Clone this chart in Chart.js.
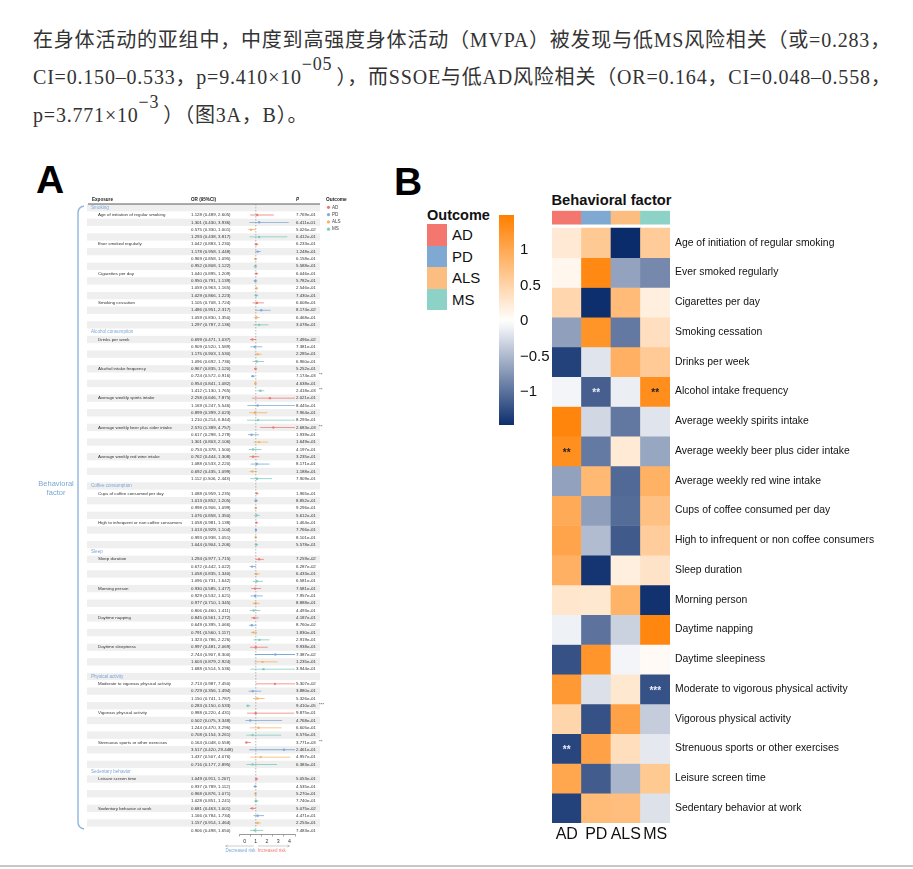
<!DOCTYPE html>
<html>
<head>
<meta charset="utf-8">
<script src="https://cdn.jsdelivr.net/npm/chart.js@4.4.1/dist/chart.umd.min.js"></script>
<style>
  body { margin: 0; width: 913px; height: 869px; overflow: hidden; background: #fff; position: relative; }
  .line { position: absolute; left: 33px; white-space: nowrap; font-family: "Liberation Serif", "Noto Sans CJK SC", serif;
          font-size: 20px; line-height: 20px; color: #333; letter-spacing: 0.8px; }
  .sup { position: relative; top: -0.8em; font-size: 0.9em; margin-right: 4px; }
  .letter { position: absolute; font-family: "Liberation Sans", Arial, sans-serif; font-weight: bold; font-size: 39px; line-height: 39px; color: #000; }
  .abs { position: absolute; font-family: "Liberation Sans", Arial, sans-serif; color: #111; }
  canvas { position: absolute; }
</style>
</head>
<body>
<div class="line" style="top:30px">在身体活动的亚组中，中度到高强度身体活动（MVPA）被发现与低MS风险相关（或=0.283，</div>
<div class="line" style="top:67px">CI=0.150–0.533，p=9.410×10<span class="sup">−05</span>），而SSOE与低AD风险相关（OR=0.164，CI=0.048–0.558，</div>
<div class="line" style="top:105px">p=3.771×10<span class="sup">−3</span>）（图3A，B）。</div>

<div class="letter" style="left:36px; top:160px">A</div>
<div class="letter" style="left:394px; top:162px">B</div>

<canvas id="forest" width="330" height="705" style="left:30px; top:160px"></canvas>

<div class="abs" style="left:540px; top:191px; width:143px; text-align:center; font-weight:bold; font-size:14.7px; line-height:18px">Behavioral factor</div>

<div id="outcomeLegend"></div>
<canvas id="colorbar" width="80" height="240" style="left:490px; top:200px"></canvas>
<canvas id="heat" width="373" height="665" style="left:540px; top:185px"></canvas>

<div style="position:absolute; left:0; top:865px; width:913px; height:1.5px; background:#c8c8c8"></div>

<script>
Chart.defaults.font.family = "'Liberation Sans', Arial, sans-serif";
Chart.defaults.animation = false;

// ---- data ----
const outcomes = ['AD', 'PD', 'ALS', 'MS'];
const outcomeColors = ['#f4776f', '#7fa9d3', '#fcbd80', '#8dd2c6'];
const forestColors = ['#f07a72', '#7eaad8', '#f7b262', '#7dcbbb'];

const groups = ['Smoking', 'Alcohol consumption', 'Coffee consumption', 'Sleep', 'Physical activity', 'Sedentary behavior'];
const exposures = [
  'Age of initiation of regular smoking', 'Ever smoked regularly', 'Cigarettes per day', 'Smoking cessation',
  'Drinks per week', 'Alcohol intake frequency', 'Average weekly spirits intake',
  'Average weekly beer plus cider intake', 'Average weekly red wine intake',
  'Cups of coffee consumed per day', 'High to infrequent or non coffee consumers',
  'Sleep duration', 'Morning person', 'Daytime napping', 'Daytime sleepiness',
  'Moderate to vigorous physical activity', 'Vigorous physical activity', 'Strenuous sports or other exercises',
  'Leisure screen time', 'Sedentary behavior at work'
];
const groupOf = [0, 0, 0, 0, 1, 1, 1, 1, 1, 2, 2, 3, 3, 3, 3, 4, 4, 4, 5, 5];

const adOR = [1.128, 1.042, 1.040, 1.105, 0.699, 0.967, 2.258, 2.570, 0.762, 1.088, 1.058, 1.294, 0.930, 0.845, 0.997, 2.713, 0.988, 0.164, 1.049, 0.681];
const adLow = [0.489, 0.883, 0.895, 0.708, 0.471, 0.835, 0.646, 1.389, 0.444, 0.959, 0.981, 0.977, 0.585, 0.561, 0.481, 0.987, 0.220, 0.048, 0.911, 0.463];
const adHigh = [2.605, 1.230, 1.209, 1.724, 1.037, 1.120, 7.875, 4.757, 1.308, 1.235, 1.138, 1.715, 1.477, 1.272, 2.069, 7.450, 4.431, 0.558, 1.207, 1.001];
const adP = [7.769e-01, 6.233e-01, 6.046e-01, 6.608e-01, 7.496e-02, 5.252e-01, 2.021e-01, 2.683e-03, 3.235e-01, 1.965e-01, 1.464e-01, 7.259e-02, 7.581e-01, 4.187e-01, 9.938e-01, 5.307e-02, 9.875e-01, 3.771e-03, 5.053e-01, 5.075e-02];

const pdOR = [1.301, 1.178, 0.950, 1.486, 0.909, 0.724, 1.169, 0.617, 1.088, 1.013, 1.013, 0.672, 0.929, 0.649, 2.744, 0.729, 0.502, 3.517, 0.937, 1.166];
const pdLow = [0.430, 0.958, 0.791, 0.951, 0.520, 0.572, 0.247, 0.298, 0.533, 0.852, 0.929, 0.442, 0.532, 0.395, 0.907, 0.356, 0.075, 0.420, 0.789, 0.784];
const pdHigh = [3.936, 1.448, 1.139, 2.317, 1.589, 0.916, 5.546, 1.278, 2.220, 1.205, 1.104, 1.022, 1.621, 1.066, 8.300, 1.494, 3.348, 29.448, 1.112, 1.734];
const pdP = [6.411e-01, 1.248e-01, 5.782e-01, 8.174e-02, 7.381e-01, 7.174e-03, 8.445e-01, 1.939e-01, 8.171e-01, 8.852e-01, 7.766e-01, 6.287e-02, 7.957e-01, 8.760e-02, 7.387e-02, 3.880e-01, 4.768e-01, 2.461e-01, 4.535e-01, 4.471e-01];

const alsOR = [0.575, 0.969, 1.059, 1.059, 1.175, 0.954, 0.899, 1.301, 0.692, 0.998, 0.993, 1.058, 0.977, 0.791, 1.603, 1.150, 1.244, 1.437, 0.968, 1.157];
const alsLow = [0.330, 0.858, 0.963, 0.830, 0.903, 0.841, 0.399, 0.803, 0.435, 0.906, 0.938, 0.835, 0.710, 0.560, 0.879, 0.741, 0.470, 0.507, 0.876, 0.914];
const alsHigh = [1.001, 1.095, 1.165, 1.350, 1.530, 1.082, 2.023, 2.106, 1.099, 1.099, 1.051, 1.340, 1.345, 1.117, 2.924, 1.787, 3.296, 4.076, 1.071, 1.464];
const alsP = [5.026e-02, 6.158e-01, 2.546e-01, 6.468e-01, 2.285e-01, 4.638e-01, 7.964e-01, 1.649e-01, 1.188e-01, 9.296e-01, 8.101e-01, 6.433e-01, 8.888e-01, 1.830e-01, 1.235e-01, 5.326e-01, 6.605e-01, 4.957e-01, 5.270e-01, 2.253e-01];

const msOR = [1.293, 0.952, 1.029, 1.297, 1.096, 1.412, 1.210, 0.753, 1.112, 1.076, 1.044, 1.096, 0.806, 1.323, 1.688, 0.283, 0.708, 0.716, 1.028, 0.906];
const msLow = [0.438, 0.808, 0.866, 0.787, 0.692, 1.130, 0.214, 0.378, 0.506, 0.858, 0.904, 0.731, 0.460, 0.786, 0.514, 0.150, 0.154, 0.177, 0.851, 0.498];
const msHigh = [3.817, 1.122, 1.223, 2.136, 1.736, 1.765, 6.844, 1.500, 2.443, 1.350, 1.206, 1.642, 1.411, 2.226, 5.536, 0.533, 3.261, 2.895, 1.241, 1.650];
const msP = [6.412e-01, 5.588e-01, 7.430e-01, 3.078e-01, 6.960e-01, 2.418e-03, 8.293e-01, 4.197e-01, 7.909e-01, 5.612e-01, 5.578e-01, 6.581e-01, 4.493e-01, 2.919e-01, 3.944e-01, 9.410e-05, 6.576e-01, 6.383e-01, 7.740e-01, 7.483e-01];

// heatmap cell values (row-scaled)
const heatAD = [0.25, 0.10, 0.47, -0.67, -1.33, -0.07, 1.41, 1.30, -0.66, 0.98, 1.05, 0.91, 0.29, -0.10, -1.22, 1.18, 0.49, -1.30, 1.02, -1.33];
const heatPD = [0.62, 1.37, -1.46, 1.24, -0.19, -1.12, -0.28, -0.93, 0.81, -0.68, -0.47, -1.42, 0.27, -0.98, 1.23, -0.22, -1.22, 1.07, -1.14, 0.78];
const heatALS = [-1.48, -0.65, 0.79, -0.94, 0.91, -0.12, -0.95, 0.24, -1.05, -1.03, -1.16, 0.19, 0.88, -0.32, -0.07, 0.27, 1.07, 0.38, -0.52, 0.75];
const heatMS = [0.60, -0.83, 0.19, 0.37, 0.61, 1.31, -0.19, -0.62, 0.90, 0.72, 0.58, 0.32, -1.44, 1.39, 0.06, -1.22, -0.35, -0.16, 0.63, -0.21];

const colorTicks = [-1, -0.5, 0, 0.5, 1];
const forestTicks = [0, 1, 2, 3, 4];

const orBy = [adOR, pdOR, alsOR, msOR];
const lowBy = [adLow, pdLow, alsLow, msLow];
const highBy = [adHigh, pdHigh, alsHigh, msHigh];
const pBy = [adP, pdP, alsP, msP];
const heatBy = [heatAD, heatPD, heatALS, heatMS];

function stars(p) {
  if (p < 0.001) return '***';
  if (p < 0.01) return '**';
  if (p < 0.05) return '*';
  return '';
}
function fmtP(p) {
  const [m, e] = p.toExponential(3).split('e');
  const n = Math.abs(parseInt(e, 10));
  return m + 'e' + (e[0] === '-' ? '-' : '+') + String(n).padStart(2, '0');
}
function heatColor(v) {
  const t = Math.max(-1, Math.min(1, v / 1.48));
  const end = t < 0 ? [10, 44, 107] : [255, 127, 0];
  const a = Math.abs(t);
  const c = end.map(e => Math.round(255 + (e - 255) * a));
  return `rgb(${c[0]},${c[1]},${c[2]})`;
}

// ---- outcome legend (panel B) ----
const legendBox = document.getElementById('outcomeLegend');
legendBox.innerHTML = '<div class="abs" style="left:427px; top:206px; font-weight:bold; font-size:14.5px; line-height:18px">Outcome</div>' +
  outcomes.map((o, k) =>
    `<div style="position:absolute; left:427px; top:${224 + k * 21.5}px; width:20px; height:21.5px; background:${outcomeColors[k]}"></div>` +
    `<div class="abs" style="left:452px; top:${226 + k * 21.5}px; font-size:15px; line-height:18px">${o}</div>`
  ).join('');

// ---- panel A: forest plot ----
const forestRows = [];
groups.forEach((g, gi) => {
  forestRows.push({ kind: 'group', text: g });
  exposures.forEach((e, ei) => {
    if (groupOf[ei] !== gi) return;
    outcomes.forEach((o, k) => forestRows.push({ kind: 'data', ei, k }));
  });
});

const ciSets = outcomes.map((o, k) => ({
  type: 'bar',
  label: o,
  indexAxis: 'y',
  grouped: false,
  barThickness: 0.8,
  inflateAmount: 0,
  backgroundColor: forestColors[k],
  borderWidth: 0,
  data: forestRows.map((r, i) => r.kind === 'data' && r.k === k ? { y: i, x: [lowBy[k][r.ei], highBy[k][r.ei]] } : null).filter(Boolean)
}));
const pointSets = outcomes.map((o, k) => ({
  type: 'scatter',
  label: o + ' OR',
  pointRadius: 1.2,
  pointBackgroundColor: forestColors[k],
  pointBorderWidth: 0,
  data: forestRows.map((r, i) => r.kind === 'data' && r.k === k ? { x: orBy[k][r.ei], y: i } : null).filter(Boolean)
}));
const refLine = {
  type: 'line',
  label: 'ref',
  data: [{ x: 1, y: -0.5 }, { x: 1, y: forestRows.length - 0.5 }],
  borderColor: '#888',
  borderWidth: 0.6,
  borderDash: [1.5, 1.5],
  pointRadius: 0
};

const forestTable = {
  id: 'forestTable',
  beforeDatasetsDraw(chart) {
    const { ctx, scales: { y } } = chart;
    const rowH = Math.abs(y.getPixelForValue(1) - y.getPixelForValue(0));
    ctx.save();
    ctx.textBaseline = 'middle';
    forestRows.forEach((row, i) => {
      const cy = y.getPixelForValue(i);
      if (i % 2 === 0) {
        ctx.fillStyle = '#efefef';
        ctx.fillRect(57, cy - rowH / 2, 233, rowH);
      }
    });
    forestRows.forEach((row, i) => {
      const cy = y.getPixelForValue(i);
      ctx.textAlign = 'left';
      if (row.kind === 'group') {
        ctx.font = "4.6px 'Liberation Sans', Arial";
        ctx.fillStyle = '#7ba7d6';
        ctx.fillText(row.text, 61, cy);
        return;
      }
      const k = row.k, e = row.ei;
      ctx.font = "4.4px 'Liberation Sans', Arial";
      ctx.fillStyle = '#333';
      if (k === 0) ctx.fillText(exposures[e], 68, cy);
      ctx.fillText(`${orBy[k][e].toFixed(3)} (${lowBy[k][e].toFixed(3)}, ${highBy[k][e].toFixed(3)})`, 161, cy);
      ctx.fillText(fmtP(pBy[k][e]), 266, cy);
      const s = stars(pBy[k][e]);
      if (s) ctx.fillText(s, 289, cy - 1);
    });
    // header
    ctx.font = "bold 4.6px 'Liberation Sans', Arial";
    ctx.fillStyle = '#222';
    ctx.fillText('Exposure', 62, 40);
    ctx.fillText('OR (95%CI)', 161, 40);
    ctx.font = "italic bold 4.6px 'Liberation Sans', Arial";
    ctx.fillText('P', 266, 40);
    ctx.strokeStyle = '#333';
    ctx.lineWidth = 0.8;
    ctx.beginPath(); ctx.moveTo(58, 44); ctx.lineTo(290, 44); ctx.stroke();
    // outcome legend
    ctx.font = "bold 4.8px 'Liberation Sans', Arial";
    ctx.fillText('Outcome', 296, 40);
    ctx.font = "4.6px 'Liberation Sans', Arial";
    outcomes.forEach((o, k) => {
      const ly = 47.3 + k * 7.3;
      ctx.fillStyle = forestColors[k];
      ctx.beginPath(); ctx.arc(298.5, ly, 1.6, 0, Math.PI * 2); ctx.fill();
      ctx.fillStyle = '#444';
      ctx.fillText(o, 302, ly);
    });
    // bracket and side label
    ctx.strokeStyle = '#8fb4dd';
    ctx.lineWidth = 1.4;
    ctx.beginPath();
    ctx.moveTo(54, 46); ctx.quadraticCurveTo(48, 47, 48, 53);
    ctx.lineTo(48, 662); ctx.quadraticCurveTo(48, 668, 54, 669);
    ctx.stroke();
    ctx.fillStyle = '#7ba7d6';
    ctx.font = "7.5px 'Liberation Sans', Arial";
    ctx.textAlign = 'center';
    ctx.fillText('Behavioral', 26, 324);
    ctx.fillText('factor', 26, 333);
    ctx.restore();
  },
  afterDraw(chart) {
    const { ctx, scales: { x } } = chart;
    const x0 = x.getPixelForValue(0), x1 = x.getPixelForValue(1), x4 = x.getPixelForValue(4);
    ctx.save();
    ctx.strokeStyle = '#999';
    ctx.lineWidth = 0.5;
    ctx.beginPath();
    ctx.moveTo(x0 - 19, 686); ctx.lineTo(x1 - 2, 686);
    ctx.moveTo(x0 - 17, 684.8); ctx.lineTo(x0 - 19, 686); ctx.lineTo(x0 - 17, 687.2);
    ctx.moveTo(x1 + 2, 686); ctx.lineTo(x4, 686);
    ctx.moveTo(x4 - 2, 684.8); ctx.lineTo(x4, 686); ctx.lineTo(x4 - 2, 687.2);
    ctx.stroke();
    ctx.font = "4.5px 'Liberation Sans', Arial";
    ctx.textBaseline = 'middle';
    ctx.fillStyle = '#7ba7d6';
    ctx.fillText('Decreased risk', x0 - 19, 690.5);
    ctx.fillStyle = '#f07a72';
    ctx.fillText('Increased risk', x1 + 2, 690.5);
    ctx.restore();
  }
};

new Chart(document.getElementById('forest'), {
  type: 'bar',
  data: { datasets: [refLine, ...ciSets, ...pointSets] },
  plugins: [forestTable],
  options: {
    responsive: false,
    layout: { padding: { left: 209, right: 65, top: 44, bottom: 17 } },
    plugins: { legend: { display: false }, tooltip: { enabled: false } },
    scales: {
      x: {
        type: 'linear', min: 0, max: 4,
        afterBuildTicks: s => { s.ticks = forestTicks.map(v => ({ value: v })); },
        afterFit: s => { s.height = 14; },
        grid: { drawOnChartArea: false, drawTicks: true, tickLength: 2.5, color: '#555', lineWidth: 0.5 },
        border: { display: true, color: '#555', width: 0.6 },
        ticks: { font: { size: 5.2 }, color: '#333', padding: 1.5 }
      },
      y: {
        type: 'linear', min: -0.5, max: forestRows.length - 0.5, reverse: true, offset: false, display: false
      }
    }
  }
});

// ---- panel B: colour key ----
const cbMin = -1.46, cbMax = 1.49;
new Chart(document.getElementById('colorbar'), {
  type: 'bar',
  data: {
    labels: [''],
    datasets: [{
      data: [[cbMin, cbMax]],
      barPercentage: 1, categoryPercentage: 1, borderWidth: 0,
      backgroundColor: c => {
        const a = c.chart.chartArea;
        if (!a) return '#fff';
        const g = c.chart.ctx.createLinearGradient(0, a.bottom, 0, a.top);
        for (let s = 0; s <= 30; s++) {
          g.addColorStop(s / 30, heatColor(cbMin + (cbMax - cbMin) * s / 30));
        }
        return g;
      }
    }]
  },
  options: {
    responsive: false,
    layout: { padding: { left: 9, top: 8, bottom: 8, right: 0 } },
    plugins: { legend: { display: false }, tooltip: { enabled: false } },
    scales: {
      x: { display: false },
      y: {
        position: 'right', min: cbMin, max: cbMax,
        afterBuildTicks: s => { s.ticks = colorTicks.map(v => ({ value: v })); },
        afterFit: s => { s.width = 56; },
        grid: { display: false, drawTicks: false },
        border: { display: false },
        ticks: { padding: 6, color: '#111', font: { size: 15 }, callback: v => v < 0 ? '\u2212' + Math.abs(v) : String(v) }
      }
    }
  }
});

// ---- panel B: heatmap ----
const heatSets = exposures.map((name, r) => ({
  label: name,
  data: outcomes.map(() => [r, r + 1]),
  backgroundColor: heatBy.map(col => heatColor(col[r])),
  grouped: false, barPercentage: 1, categoryPercentage: 1, borderWidth: 0
}));
heatSets.push({
  label: 'Outcome',
  data: outcomes.map(() => [-0.57, -0.13]),
  backgroundColor: outcomeColors,
  grouped: false, barPercentage: 1, categoryPercentage: 1, borderWidth: 0
});

const heatStars = {
  id: 'heatStars',
  afterDatasetsDraw(chart) {
    const { ctx, scales: { x, y } } = chart;
    ctx.save();
    ctx.font = "bold 10px 'Liberation Sans', Arial";
    ctx.textAlign = 'center';
    ctx.textBaseline = 'middle';
    exposures.forEach((name, r) => {
      outcomes.forEach((o, k) => {
        const s = stars(pBy[k][r]);
        if (!s) return;
        ctx.fillStyle = heatBy[k][r] < -0.4 ? '#e8eef8' : '#222';
        ctx.fillText(s, x.getPixelForValue(k), y.getPixelForValue(r + 0.5) + 2);
      });
    });
    ctx.restore();
  }
};

new Chart(document.getElementById('heat'), {
  type: 'bar',
  data: { labels: outcomes, datasets: heatSets },
  plugins: [heatStars],
  options: {
    responsive: false,
    layout: { padding: { left: 12, top: 25.15, right: 0, bottom: 0 } },
    plugins: { legend: { display: false }, tooltip: { enabled: false } },
    scales: {
      x: {
        grid: { display: false, drawTicks: false },
        border: { display: false },
        afterFit: s => { s.height = 27; },
        ticks: { padding: 2, color: '#111', font: { size: 16 }, maxRotation: 0, minRotation: 0, autoSkip: false }
      },
      y: {
        type: 'linear', position: 'right', min: -0.6, max: exposures.length, reverse: true,
        afterBuildTicks: s => { s.ticks = exposures.map((e, i) => ({ value: i + 0.5 })); },
        afterFit: s => { s.width = 243; },
        grid: { display: false, drawTicks: false },
        border: { display: false },
        ticks: { padding: 5, color: '#111', font: { size: 10.4 }, autoSkip: false,
                 callback: v => exposures[Math.round(v - 0.5)] }
      }
    }
  }
});
</script>
</body>
</html>
